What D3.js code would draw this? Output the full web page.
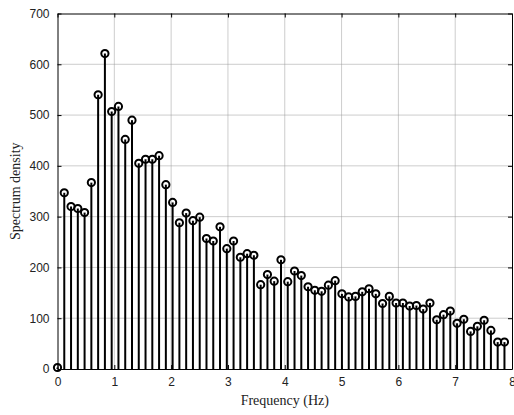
<!DOCTYPE html>
<html lang="en">
<head>
    <meta charset="UTF-8">
    <title>Spectrum density stem plot</title>
    <script src="https://d3js.org/d3.v7.min.js"></script>
    <style>
        body { margin: 0; background: #fff; }
        .tick text { font-family: Arial, "Liberation Sans", sans-serif; font-size: 12px; fill: #222; }
        .grid line { stroke: #9a9a9a; stroke-width: 1; stroke-dasharray: 1,1; }
        .stem { stroke: #000; stroke-width: 2; }
        .marker { fill: none; stroke: #000; stroke-width: 2; }
        .label { font-family: "Times New Roman", "Liberation Serif", serif; font-size: 14px; fill: #222; }
    </style>
</head>
<body>
<div id="chart"></div>
<script>
    // spectrum values (one per frequency bin)
    var density = [3, 347, 320, 316, 308, 367, 540, 621, 507, 517,
                   452, 490, 405, 413, 413, 420, 363, 328, 288, 307,
                   292, 299, 257, 252, 280, 237, 252, 220, 227, 224,
                   166, 186, 173, 215, 172, 193, 184, 162, 155, 153,
                   165, 174, 148, 142, 143, 152, 158, 148, 129, 143,
                   130, 130, 124, 125, 118, 130, 97, 107, 114, 90,
                   98, 74, 84, 96, 76, 53, 53];
    var binWidth = 0.1192;   // Hz between bins
    var xTicks = [0, 1, 2, 3, 4, 5, 6, 7, 8];
    var yTicks = [0, 100, 200, 300, 400, 500, 600, 700];

    var data = density.map(function(v, i) { return {f: i * binWidth, v: v}; });

    var margin = {top: 13.5, right: 2, bottom: 46, left: 57.5},
        W = 514, H = 415,
        w = W - margin.left - margin.right,
        h = H - margin.top - margin.bottom;

    var svg = d3.select("#chart").append("svg")
        .attr("width", W)
        .attr("height", H)
        .append("g")
        .attr("transform", "translate(" + margin.left + "," + margin.top + ")");

    var x = d3.scaleLinear().domain([0, 8]).range([0, w]);
    var y = d3.scaleLinear().domain([0, 700]).range([h, 0]);

    // grid
    svg.append("g").attr("class", "grid")
        .selectAll("line").data(xTicks.slice(1, -1)).join("line")
        .attr("x1", d => x(d)).attr("x2", d => x(d))
        .attr("y1", 0).attr("y2", h);
    svg.append("g").attr("class", "grid")
        .selectAll("line").data(yTicks.slice(1, -1)).join("line")
        .attr("x1", 0).attr("x2", w)
        .attr("y1", d => y(d)).attr("y2", d => y(d));

    // stems
    svg.selectAll(".stem").data(data).join("line")
        .attr("class", "stem")
        .attr("x1", d => x(d.f)).attr("x2", d => x(d.f))
        .attr("y1", y(0)).attr("y2", d => y(d.v));

    svg.selectAll(".marker").data(data).join("circle")
        .attr("class", "marker")
        .attr("cx", d => x(d.f)).attr("cy", d => y(d.v))
        .attr("r", 3.6);

    // axes, MATLAB style ticks pointing inward on all sides
    var xAxis = d3.axisBottom(x).tickValues(xTicks).tickSizeInner(-4).tickSizeOuter(0).tickPadding(8);
    var yAxis = d3.axisLeft(y).tickValues(yTicks).tickSizeInner(-4).tickSizeOuter(0).tickPadding(8);

    svg.append("g").attr("transform", "translate(0," + h + ")").call(xAxis);
    svg.append("g").call(yAxis);
    svg.append("g").call(d3.axisTop(x).tickValues(xTicks).tickSizeInner(-4).tickSizeOuter(0).tickFormat(""));
    svg.append("g").attr("transform", "translate(" + w + ",0)")
        .call(d3.axisRight(y).tickValues(yTicks).tickSizeInner(-4).tickSizeOuter(0).tickFormat(""));

    svg.selectAll(".domain").attr("stroke", "#000");
    svg.selectAll(".tick line").attr("stroke", "#000");

    // axis titles
    svg.append("text").attr("class", "label")
        .attr("x", w / 2).attr("y", h + 36)
        .attr("text-anchor", "middle")
        .text("Frequency (Hz)");

    svg.append("text").attr("class", "label")
        .attr("transform", "translate(-38," + (h / 2) + ") rotate(-90)")
        .attr("text-anchor", "middle")
        .text("Spectrum density");
</script>
</body>
</html>
